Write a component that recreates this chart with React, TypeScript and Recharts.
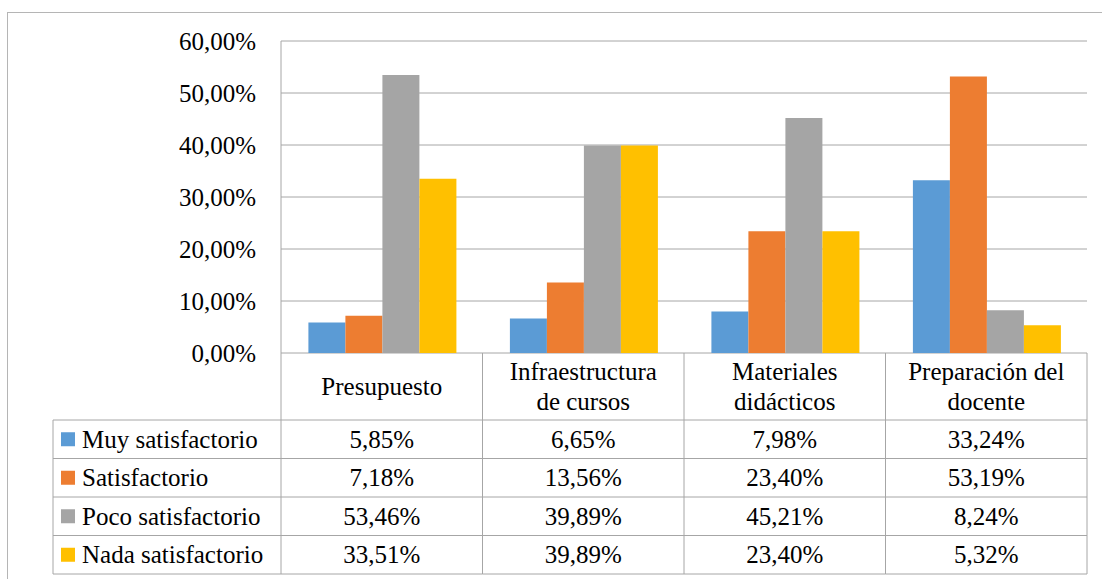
import { BarChart, Bar, XAxis, YAxis, CartesianGrid } from "recharts";

const categories = [
  ["Presupuesto"],
  ["Infraestructura", "de cursos"],
  ["Materiales", "didácticos"],
  ["Preparación del", "docente"],
];
const muySatisfactorio = [5.85, 6.65, 7.98, 33.24];
const satisfactorio = [7.18, 13.56, 23.4, 53.19];
const pocoSatisfactorio = [53.46, 39.89, 45.21, 8.24];
const nadaSatisfactorio = [33.51, 39.89, 23.4, 5.32];
const yTicks = [0, 10, 20, 30, 40, 50, 60];

const series = [
  { key: "muy", name: "Muy satisfactorio", values: muySatisfactorio, color: "#5B9BD5" },
  { key: "sat", name: "Satisfactorio", values: satisfactorio, color: "#ED7D31" },
  { key: "poco", name: "Poco satisfactorio", values: pocoSatisfactorio, color: "#A5A5A5" },
  { key: "nada", name: "Nada satisfactorio", values: nadaSatisfactorio, color: "#FFC000" },
];

const data = categories.map((lines, i) => {
  const row: Record<string, any> = { name: lines.join(" "), lines };
  series.forEach((s) => (row[s.key] = s.values[i]));
  return row;
});

const W = 1102;
const H = 579;
const LEFT = 281;
const RIGHT = 15;
const TOP = 41;
const AXIS_H = 226;
const COL_W = (W - LEFT - RIGHT) / categories.length;
const HEAD_H = 67;
const ROW_H = 38.5;
const TABLE_LEFT = 53;
const LINE = "#a6a6a6";
const FONT = "Liberation Serif, DejaVu Serif, serif";
const FS = 25;

const pct = (v: number) => `${v.toFixed(2).replace(".", ",")}%`;

// x-axis ticks draw the data table: header cell + one value per series
function TableTick(props: any) {
  const { x, y, payload, index } = props;
  const lines: string[] = data[index]?.lines ?? [payload.value];
  const x0 = x - COL_W / 2;
  const x1 = x + COL_W / 2;
  const bottom = y + HEAD_H + ROW_H * series.length;
  const headMid = y + HEAD_H / 2;
  const lineGap = 30;
  const txt = { fontFamily: FONT, fontSize: FS, fill: "#000" };
  return (
    <g>
      {lines.map((t, li) => (
        <text
          key={li}
          x={x}
          y={headMid + (li - (lines.length - 1) / 2) * lineGap}
          textAnchor="middle"
          dominantBaseline="central"
          style={txt}
        >
          {t}
        </text>
      ))}
      <line x1={x1} y1={y} x2={x1} y2={bottom} stroke={LINE} />
      {index === 0 && <line x1={x0} y1={y} x2={x0} y2={bottom} stroke={LINE} />}
      {series.map((s, si) => {
        const top = y + HEAD_H + si * ROW_H;
        return (
          <g key={s.key}>
            <line x1={index === 0 ? TABLE_LEFT : x0} y1={top} x2={x1} y2={top} stroke={LINE} />
            <text x={x} y={top + ROW_H / 2} textAnchor="middle" dominantBaseline="central" style={txt}>
              {pct(s.values[index])}
            </text>
            {index === 0 && (
              <>
                <rect x={TABLE_LEFT + 8} y={top + ROW_H / 2 - 7} width={14} height={14} fill={s.color} />
                <text x={TABLE_LEFT + 29} y={top + ROW_H / 2} dominantBaseline="central" style={txt}>
                  {s.name}
                </text>
              </>
            )}
          </g>
        );
      })}
      <line x1={index === 0 ? TABLE_LEFT : x0} y1={bottom} x2={x1} y2={bottom} stroke={LINE} />
      {index === 0 && (
        <line x1={TABLE_LEFT} y1={y + HEAD_H} x2={TABLE_LEFT} y2={bottom} stroke={LINE} />
      )}
    </g>
  );
}

export default function App() {
  return (
    <div
      style={{
        position: "absolute",
        left: 0,
        top: 0,
        width: W,
        height: H,
        overflow: "hidden",
        background: "#fff",
        fontFamily: FONT,
      }}
    >
      <div
        style={{
          position: "absolute",
          left: 7,
          top: 12,
          width: W,
          height: H,
          borderLeft: "1px solid #b5b5b5",
          borderTop: "1px solid #b5b5b5",
        }}
      />
      <div style={{ position: "absolute", left: 0, top: 0 }}>
        <BarChart
          width={W}
          height={H}
          data={data}
          margin={{ top: TOP, right: RIGHT, left: 0, bottom: 0 }}
          barCategoryGap="13.6%"
          barGap={0}
        >
          <CartesianGrid vertical={false} stroke={LINE} />
          <XAxis
            dataKey="name"
            height={AXIS_H}
            axisLine={false}
            tickLine={false}
            tickSize={0}
            tickMargin={0}
            interval={0}
            tick={<TableTick />}
          />
          <YAxis
            width={LEFT}
            domain={[0, 60]}
            ticks={yTicks}
            tickFormatter={pct}
            axisLine={{ stroke: LINE }}
            tickLine={false}
            tickSize={0}
            tickMargin={25}
            tick={{ fill: "#000", fontFamily: FONT, fontSize: FS, style: { fontFamily: FONT } }}
          />
          {series.map((s) => (
            <Bar key={s.key} dataKey={s.key} name={s.name} fill={s.color} isAnimationActive={false} />
          ))}
        </BarChart>
      </div>
    </div>
  );
}
